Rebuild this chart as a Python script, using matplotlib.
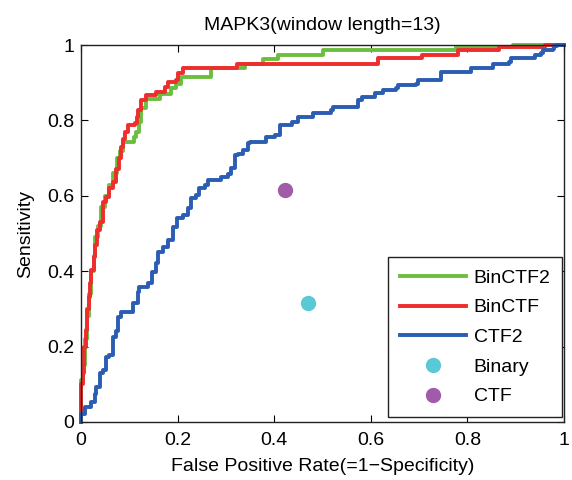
import matplotlib
matplotlib.use('Agg')
import matplotlib.pyplot as plt

plt.rcParams['font.family'] = ['Liberation Sans', 'DejaVu Sans']

# ROC curves (fpr, tpr) at each step
bin_ctf2_fpr = [0, 0, 0.004, 0.008, 0.012, 0.016, 0.02, 0.026, 0.03, 0.036, 0.042, 0.05,
                0.058, 0.066, 0.074, 0.08, 0.088, 0.11, 0.114, 0.12, 0.125, 0.135, 0.163,
                0.187, 0.197, 0.207, 0.27, 0.34, 0.377, 0.408, 0.501, 0.777, 0.894, 1]
bin_ctf2_tpr = [0, 0.11, 0.15, 0.22, 0.28, 0.34, 0.40, 0.44, 0.49, 0.52, 0.57, 0.60,
                0.63, 0.66, 0.70, 0.72, 0.743, 0.757, 0.77, 0.797, 0.833, 0.858, 0.869,
                0.885, 0.896, 0.916, 0.938, 0.951, 0.963, 0.975, 0.987, 0.995, 1.0, 1.0]

bin_ctf_fpr = [0, 0, 0.004, 0.006, 0.010, 0.012, 0.016, 0.018, 0.02, 0.026, 0.03, 0.034,
               0.039, 0.045, 0.052, 0.059, 0.066, 0.072, 0.078, 0.083, 0.087, 0.092, 0.097,
               0.111, 0.115, 0.118, 0.125, 0.135, 0.156, 0.173, 0.18, 0.197, 0.20, 0.211,
               0.322, 0.614, 0.707, 0.78, 0.866, 0.96, 1]
bin_ctf_tpr = [0, 0.10, 0.13, 0.2, 0.244, 0.30, 0.332, 0.37, 0.403, 0.438, 0.47, 0.509,
               0.53, 0.584, 0.598, 0.62, 0.637, 0.67, 0.70, 0.73, 0.752, 0.77, 0.788,
               0.792, 0.81, 0.828, 0.854, 0.867, 0.876, 0.889, 0.903, 0.907, 0.925, 0.938,
               0.951, 0.965, 0.973, 0.987, 0.995, 1.0, 1.0]

ctf2_fpr = [0, 0, 0.008, 0.021, 0.028, 0.032, 0.039, 0.045, 0.052, 0.059, 0.066, 0.073,
            0.077, 0.083, 0.108, 0.118, 0.121, 0.139, 0.146, 0.156, 0.159, 0.17, 0.181,
            0.191, 0.198, 0.212, 0.221, 0.228, 0.239, 0.245, 0.256, 0.263, 0.289, 0.305,
            0.311, 0.318, 0.325, 0.336, 0.346, 0.35, 0.384, 0.401, 0.412, 0.436, 0.449,
            0.48, 0.518, 0.522, 0.574, 0.581, 0.608, 0.625, 0.653, 0.656, 0.694, 0.698,
            0.746, 0.808, 0.853, 0.887, 0.891, 0.939, 0.953, 0.956, 0.977, 0.98, 0.985, 1]
ctf2_tpr = [0, 0.02, 0.04, 0.054, 0.075, 0.094, 0.129, 0.138, 0.173, 0.178, 0.226, 0.24,
            0.279, 0.293, 0.315, 0.346, 0.359, 0.368, 0.399, 0.421, 0.452, 0.465, 0.483,
            0.518, 0.54, 0.549, 0.567, 0.593, 0.602, 0.62, 0.629, 0.642, 0.651, 0.659,
            0.673, 0.708, 0.712, 0.721, 0.739, 0.743, 0.757, 0.761, 0.788, 0.797, 0.81,
            0.819, 0.828, 0.836, 0.854, 0.863, 0.872, 0.881, 0.885, 0.894, 0.898, 0.907,
            0.929, 0.938, 0.951, 0.956, 0.965, 0.973, 0.978, 0.987, 0.991, 0.997, 1.0, 1.0]

# single operating points
binary_pt = (0.469, 0.316)
ctf_pt = (0.422, 0.615)

ticks = [0, 0.2, 0.4, 0.6, 0.8, 1]
tick_labels = ['0', '0.2', '0.4', '0.6', '0.8', '1']

fig = plt.figure(figsize=(5.72, 4.8), dpi=100)
ax = fig.add_axes([0.1416, 0.121, 0.8444, 0.785])

lw = 2.8
ax.plot(bin_ctf2_fpr, bin_ctf2_tpr, drawstyle='steps-post', color='#6cbe41', lw=lw,
        label='BinCTF2', clip_on=False)
ax.plot(bin_ctf_fpr, bin_ctf_tpr, drawstyle='steps-post', color='#ee2d2d', lw=lw,
        label='BinCTF', clip_on=False)
ax.plot(ctf2_fpr, ctf2_tpr, drawstyle='steps-post', color='#2b5db2', lw=lw,
        label='CTF2', clip_on=False)
ax.plot([binary_pt[0]], [binary_pt[1]], 'o', color='#5bc8d8', ms=10, label='Binary')
ax.plot([ctf_pt[0]], [ctf_pt[1]], 'o', color='#a25ba8', ms=10, label='CTF')

ax.set_xlim(0, 1)
ax.set_ylim(0, 1)
ax.set_xticks(ticks)
ax.set_xticklabels(tick_labels)
ax.set_yticks(ticks)
ax.set_yticklabels(tick_labels)
ax.tick_params(direction='in', top=True, right=True, length=5, width=0.8,
               labelsize=14, pad=5)
ax.tick_params(axis='x', pad=7)
for s in ax.spines.values():
    s.set_linewidth(1.0)
    s.set_color('#222222')

ax.set_title('MAPK3(window length=13)', fontsize=14, pad=11)
ax.set_xlabel('False Positive Rate(=1\u2212Specificity)', fontsize=14, labelpad=7)
ax.set_ylabel('Sensitivity', fontsize=14, labelpad=9)

leg = ax.legend(loc='lower right', bbox_to_anchor=(0.996, 0.013), fontsize=14,
                handlelength=3.4, labelspacing=0.62, borderaxespad=0, fancybox=False,
                framealpha=1, borderpad=0.6, handletextpad=0.4)
leg.get_frame().set_edgecolor('#222222')
leg.get_frame().set_linewidth(1.0)

fig.savefig('out.png', dpi=100)
